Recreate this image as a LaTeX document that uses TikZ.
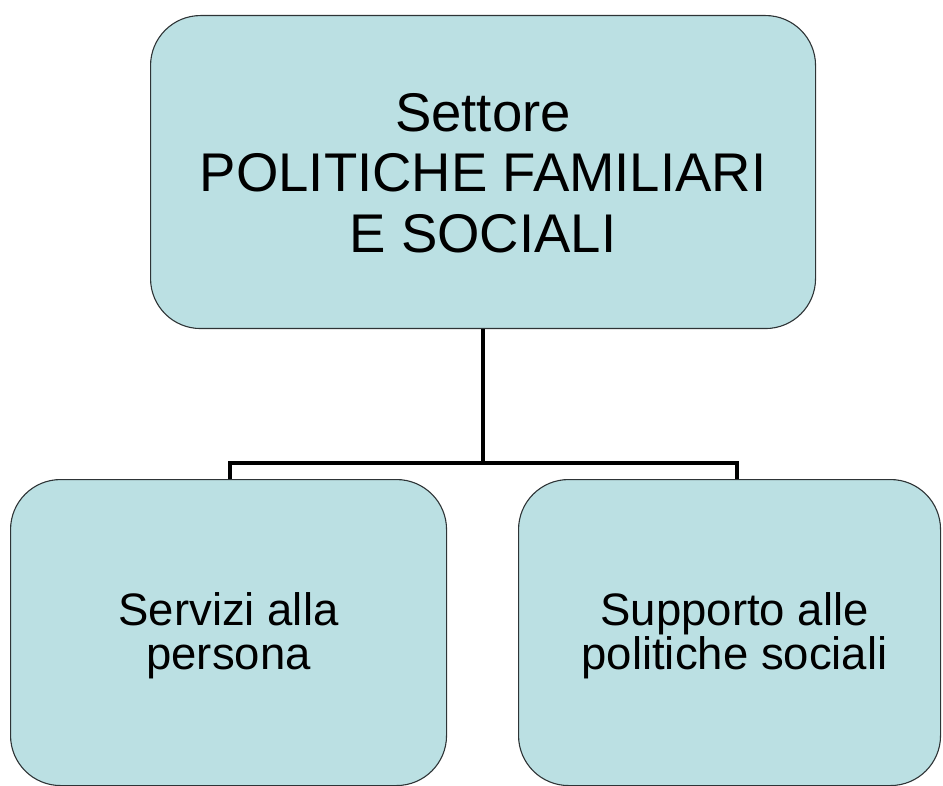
\documentclass[tikz,border=0pt]{standalone}
\usepackage{fontspec}
\setmainfont{Liberation Sans}
\definecolor{boxfill}{HTML}{BBE0E3}
\definecolor{boxline}{HTML}{2E3436}
\begin{document}
\begin{tikzpicture}[x=1pt,y=-1pt,
  orgbox/.style={draw=boxline, line width=1.1pt, fill=boxfill, rounded corners=50pt,
    anchor=north west, inner sep=0pt},
  boxtext/.style={align=center, inner sep=0pt},
  link/.style={draw=black, line width=4pt, line join=miter}]
\useasboundingbox (0,0) rectangle (943,786);
\node[orgbox, minimum width=665pt, minimum height=313pt] (top) at (150,15) {};
\node[orgbox, minimum width=436pt, minimum height=306pt] (left) at (10,479) {};
\node[orgbox, minimum width=422pt, minimum height=306pt] (right) at (518,479) {};
\node[boxtext, font=\fontsize{54.5}{60.5}\selectfont] (toptext) at ([yshift=-1pt]top.center)
  {Settore\\POLITICHE FAMILIARI\\E SOCIALI};
\node[boxtext, font=\fontsize{45.5}{44}\selectfont] (lefttext) at ([yshift=-3pt]left.center)
  {Servizi alla\\persona};
\node[boxtext, font=\fontsize{45.5}{44}\selectfont] (righttext) at ([xshift=5pt,yshift=-3pt]right.center)
  {Supporto alle\\politiche sociali};
\coordinate (lj) at (230,463);
\coordinate (rj) at (737,463);
\draw[link] (top.south) -- (top.south |- lj);
\draw[link] (lj |- left.north) -- (lj) -- (rj) -- (rj |- right.north);
\end{tikzpicture}
\end{document}
